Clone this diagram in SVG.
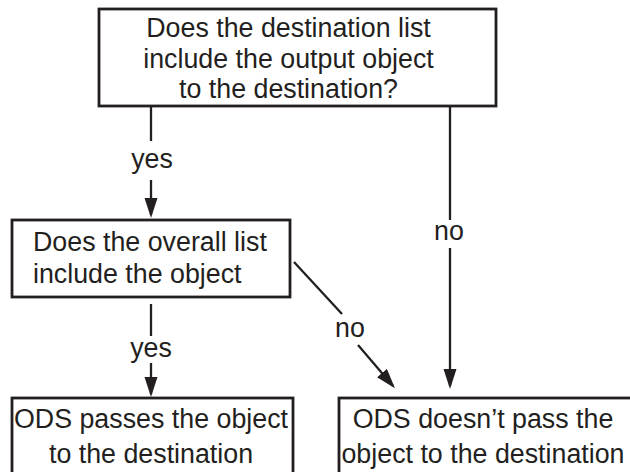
<svg xmlns="http://www.w3.org/2000/svg" width="630" height="472" viewBox="0 0 630 472">
<style>
.box{fill:#fff;stroke:#231f20;stroke-width:2.8}
.c{stroke:#231f20;stroke-width:2.3;fill:none}
text{font-family:"Liberation Sans",Arial,sans-serif;font-size:26.8px;fill:#231f20}
.m{text-anchor:middle}
</style>
<defs>
<marker id="ah" markerUnits="userSpaceOnUse" markerWidth="22" markerHeight="14" refX="17" refY="6.5" orient="auto">
<path d="M0,0 L20,6.5 L0,13 z" fill="#231f20"/>
</marker>
</defs>
<rect width="630" height="472" fill="#fff"/>
<g id="connectors">
<line class="c" x1="151" y1="106" x2="151" y2="141"/>
<line class="c" x1="151" y1="180" x2="151" y2="215" marker-end="url(#ah)"/>
<line class="c" x1="450" y1="106" x2="450" y2="220"/>
<line class="c" x1="450" y1="248" x2="450" y2="386" marker-end="url(#ah)"/>
<line class="c" x1="151" y1="304" x2="151" y2="336"/>
<line class="c" x1="151" y1="363" x2="151" y2="394" marker-end="url(#ah)"/>
<line class="c" x1="294" y1="262" x2="342" y2="314"/>
<line class="c" x1="358" y1="345" x2="393" y2="386" marker-end="url(#ah)"/>
<text class="m" x="152" y="168">yes</text>
<text class="m" x="449" y="240">no</text>
<text class="m" x="151" y="357">yes</text>
<text class="m" x="350" y="337">no</text>
</g>
<g id="q1">
<rect class="box" x="99" y="9" width="397" height="97"/>
<text class="m" x="288.5" y="37">Does the destination list</text>
<text class="m" x="288.5" y="68">include the output object</text>
<text class="m" x="288.5" y="98">to the destination?</text>
</g>
<g id="q2">
<rect class="box" x="12" y="220" width="278" height="77"/>
<text x="33" y="251">Does the overall list</text>
<text x="33" y="283">include the object</text>
</g>
<g id="pass">
<rect class="box" x="12" y="398" width="281" height="90"/>
<text class="m" x="151" y="428">ODS passes the object</text>
<text class="m" x="151" y="463">to the destination</text>
</g>
<g id="nopass">
<rect class="box" x="339" y="398" width="300" height="90"/>
<text class="m" x="483" y="428">ODS doesn’t pass the</text>
<text class="m" x="483" y="463">object to the destination</text>
</g>
</svg>
